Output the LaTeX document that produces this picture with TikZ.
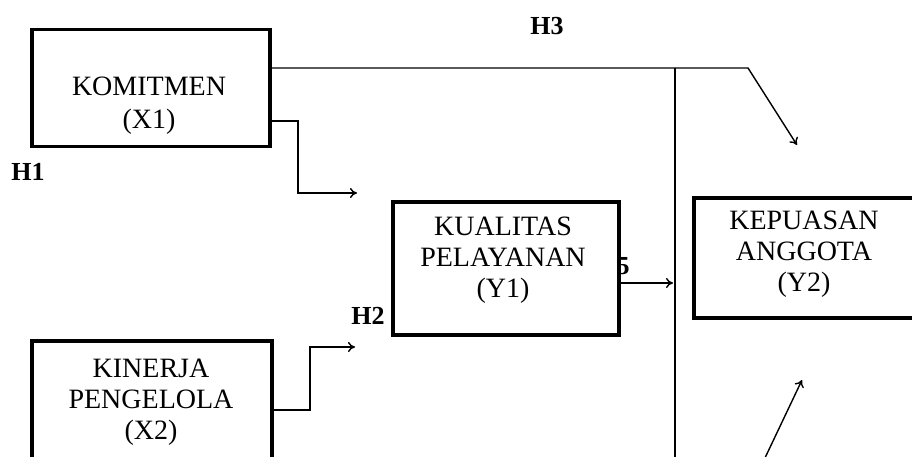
\documentclass[tikz,border=0pt]{standalone}
\usepackage{fontspec}
\setmainfont{Liberation Serif}
\usetikzlibrary{arrows.meta,calc}
\begin{document}
\begin{tikzpicture}[x=1pt,y=-1pt,
  box/.style={draw,line width=3.5pt,rectangle,anchor=north west,inner sep=0pt},
  lbl/.style={align=center,font=\fontsize{28}{31}\selectfont,inner sep=0pt,anchor=north},
  hyp/.style={font=\fontsize{26}{31}\selectfont\bfseries,inner sep=0pt},
  conn/.style={line width=1.4pt},
  arr/.style={conn,-{To[length=7pt,width=10pt]}}]
\clip (0,0) rectangle (912,457);
% boxes
\node[box,minimum width=238pt,minimum height=117pt] (x1) at (30,28) {};
\node[box,minimum width=240pt,minimum height=140pt] (x2) at (30,339) {};
\node[box,minimum width=226pt,minimum height=133pt] (y1) at (391,200) {};
\node[box,minimum width=230pt,minimum height=120pt] (y2) at (692,196) {};
% box texts
\node[lbl,font=\fontsize{28}{33}\selectfont] (tx1) at (149,77) {KOMITMEN\\(X1)};
\node[lbl] (tx2) at (151,359) {KINERJA\\PENGELOLA\\(X2)};
\node[lbl] (ty1) at (503,217) {KUALITAS\\PELAYANAN\\(Y1)};
\node[lbl] (ty2) at (804,211) {KEPUASAN\\ANGGOTA\\(Y2)};
% hypothesis labels
\node[hyp] (h1) at (28,172) {H1};
\node[hyp] (h2) at (368,316) {H2};
\node[hyp] (h3) at (547,26) {H3};
\node[hyp] (h5) at (623,266) {5};
% coordinates
\coordinate (h3a) at (748,68);
\coordinate (h3tip) at (797,145);
\coordinate (vtop) at (675,68);
\coordinate (vbot) at (675,460);
\coordinate (h1a) at (298,121);
\coordinate (h1b) at (357,193);
\coordinate (h2a) at (310,410);
\coordinate (h2b) at (355,347);
\coordinate (y1t) at (673,283);
\coordinate (bs) at (764,460);
\coordinate (bt) at (802,380);
% connectors
\draw[arr] (x1.east |- h3a) -- (h3a) -- (h3tip);
\draw[conn] (vtop) -- (vbot);
\draw[arr] (x1.east |- h1a) -- (h1a) |- (h1b);
\draw[arr] (x2.east |- h2a) -- (h2a) |- (h2b);
\draw[arr] (y1.east |- y1t) -- (y1t);
\draw[arr] (bs) -- (bt);
\end{tikzpicture}
\end{document}
